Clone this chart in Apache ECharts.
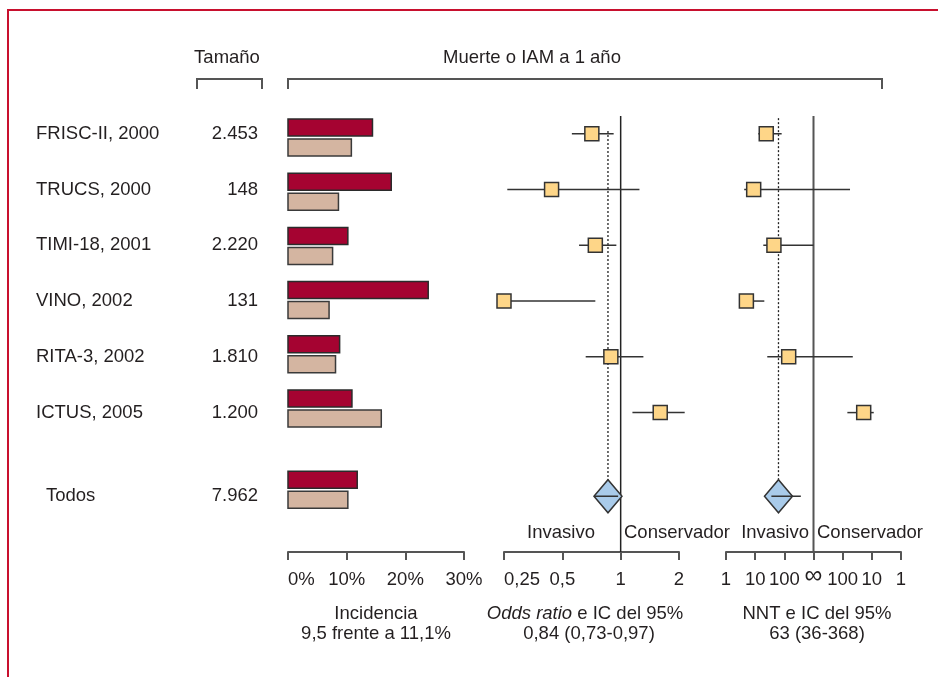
<!DOCTYPE html>
<html>
<head>
<meta charset="utf-8">
<script src="https://cdn.jsdelivr.net/npm/echarts@6/dist/echarts.min.js"></script>
<style>
  html, body { margin: 0; padding: 0; background: #fff; }
  #chart { width: 938px; height: 677px; }
</style>
</head>
<body>
<div id="chart"></div>
<script>
// rows of the forest plot (last one is the pooled result)
var studies = ['FRISC-II, 2000', 'TRUCS, 2000', 'TIMI-18, 2001', 'VINO, 2002', 'RITA-3, 2002', 'ICTUS, 2005', 'Todos']
var sizes = ['2.453', '148', '2.220', '131', '1.810', '1.200', '7.962']
var rowPos = [1, 2, 3, 4, 5, 6, 7.5]

// incidence (%)
var incInvasive = [14.4, 17.6, 10.2, 23.9, 8.8, 10.9, 11.8]
var incConservative = [10.8, 8.6, 7.6, 7.0, 8.1, 15.9, 10.2]

// odds ratio and 95% CI
var orPoint = [0.71, 0.44, 0.74, 0.25, 0.89, 1.60]
var orLow = [0.56, 0.26, 0.61, 0.23, 0.66, 1.15]
var orHigh = [0.92, 1.25, 0.95, 0.74, 1.31, 2.14]
var orPooled = [0.86, 0.73, 0.97]

// NNT and 95% CI (positive = favours invasive, negative = favours conservative)
var nntPoint = [24, 8.9, 44, 5, 141, -19]
var nntLow = [12.8, 4.2, 19, 2.8, 26, -69]
var nntHigh = [81, -56, Infinity, 20.6, -45, -8.6]
var nntPooled = [63, 36, 368]

var incTicks = [0, 10, 20, 30]
var nntTicks = ['1', '10', '100', '\u221e', '100', '10', '1']

var FONT = '"Liberation Sans", Arial, sans-serif'
var FS = 18.5
var TXT = '#231f20'
var LINE = '#333'
var AXIS = '#555'

function nntPos(v) {
  if (v === Infinity) return 3
  return v > 0 ? Math.log10(v) : 6 - Math.log10(-v)
}

function txt(x, y, text, align, extra) {
  var style = { text: text, x: x, y: y, fill: TXT, fontFamily: FONT, fontSize: FS, align: align || 'center', verticalAlign: 'middle' }
  if (extra) for (var k in extra) style[k] = extra[k]
  return { type: 'text', style: style }
}

function axisOpt(idx, type, extra) {
  var a = {
    gridIndex: idx,
    type: type,
    position: 'bottom',
    axisLine: { show: true, onZero: false, lineStyle: { color: AXIS, width: 2 } },
    axisTick: { show: true, inside: false, length: 8, lineStyle: { color: AXIS, width: 2 } },
    axisLabel: { color: TXT, fontFamily: FONT, fontSize: FS, margin: 18 },
    splitLine: { show: false }
  }
  for (var k in extra) a[k] = extra[k]
  return a
}

function yAxisOpt(idx, min, max) {
  return { gridIndex: idx, type: 'value', min: min, max: max, inverse: true, show: false }
}

function renderLabels(params, api) {
  var i = params.dataIndex
  var y = api.coord([0, api.value(1)])[1]
  var last = i === studies.length - 1
  return {
    type: 'group',
    children: [
      txt(last ? 46 : 36, y, studies[i], 'left'),
      txt(258, y, sizes[i], 'right')
    ]
  }
}

function renderBars(params, api) {
  var row = api.value(2)
  var x0 = api.coord([0, row])
  var c = x0[1]
  var xa = api.coord([api.value(0), row])[0]
  var xb = api.coord([api.value(1), row])[0]
  return {
    type: 'group',
    children: [
      { type: 'rect', shape: { x: x0[0], y: c - 18.5, width: xa - x0[0], height: 17 },
        style: { fill: '#a50331', stroke: '#2b2b2b', lineWidth: 1.5 } },
      { type: 'rect', shape: { x: x0[0], y: c + 1.5, width: xb - x0[0], height: 17 },
        style: { fill: '#d4b5a1', stroke: '#3a3a3a', lineWidth: 1.5 } }
    ]
  }
}

function renderStudy(params, api) {
  var row = api.value(3)
  var p = api.coord([api.value(0), row])
  var lo = api.coord([api.value(1), row])
  var hi = api.coord([api.value(2), row])
  return {
    type: 'group',
    children: [
      { type: 'line', shape: { x1: lo[0], y1: p[1], x2: hi[0], y2: p[1] }, style: { stroke: LINE, lineWidth: 1.5 } },
      { type: 'rect', shape: { x: p[0] - 7, y: p[1] - 7, width: 14, height: 14 },
        style: { fill: '#fed688', stroke: LINE, lineWidth: 1.5 } }
    ]
  }
}

function renderPooled(params, api) {
  var row = api.value(3)
  var p = api.coord([api.value(0), row])
  var lo = api.coord([api.value(1), row])
  var hi = api.coord([api.value(2), row])
  return {
    type: 'group',
    children: [
      { type: 'polygon', shape: { points: [[p[0] - 14, p[1]], [p[0], p[1] - 16.5], [p[0] + 14, p[1]], [p[0], p[1] + 16.5]] },
        style: { fill: '#a9cbea', stroke: LINE, lineWidth: 1.5 } },
      { type: 'line', shape: { x1: lo[0], y1: p[1], x2: hi[0], y2: p[1] }, style: { stroke: LINE, lineWidth: 1.5 } }
    ]
  }
}

// vertical reference line: [x, rowFrom, rowTo, dotted]
function renderVLine(params, api) {
  var a = api.coord([api.value(0), api.value(1)])
  var b = api.coord([api.value(0), api.value(2)])
  var dotted = api.value(3) === 1
  var nnt = params.seriesIndex > 5
  return {
    type: 'line',
    shape: { x1: a[0], y1: a[1], x2: b[0], y2: dotted ? b[1] - 16.5 : b[1] },
    style: dotted ? { stroke: '#222', lineWidth: 1.3, lineDash: [2, 2] } : { stroke: nnt ? AXIS : '#222', lineWidth: nnt ? 2 : 1.5 }
  }
}

var pooledRow = rowPos[rowPos.length - 1]
var studyRows = rowPos.slice(0, 6)

var option = {
  animation: false,
  grid: [
    { left: 288, top: 78, width: 176, height: 474, outerBoundsMode: 'none' },
    { left: 504, top: 78, width: 175, height: 474, outerBoundsMode: 'none' },
    { left: 726, top: 78, width: 175, height: 474, outerBoundsMode: 'none' }
  ],
  xAxis: [
    axisOpt(0, 'value', { min: incTicks[0], max: incTicks[incTicks.length - 1], interval: 10,
      axisLabel: { color: TXT, fontFamily: FONT, fontSize: FS, margin: 18, formatter: '{value}%', alignMinLabel: 'left' } }),
    axisOpt(1, 'log', { logBase: 2, min: 0.25, max: 2, splitNumber: 3,
      axisLabel: { color: TXT, fontFamily: FONT, fontSize: FS, margin: 18, alignMinLabel: 'left',
        formatter: function (v) { return String(Math.round(v * 100) / 100).replace('.', ',') } } }),
    axisOpt(2, 'value', { min: 0, max: 6, interval: 1,
      axisLabel: { color: TXT, fontFamily: FONT, fontSize: FS, margin: 18,
        formatter: function (v) {
          var t = nntTicks[Math.round(v)]
          return t === '\u221e' ? '{inf|' + t + '}' : t
        },
        rich: { inf: { fontFamily: FONT, fontSize: 25, lineHeight: 12, color: TXT } } } })
  ],
  // the bar pairs sit on a slightly tighter row pitch than the labels
  yAxis: [yAxisOpt(0, 0, 8.5), yAxisOpt(1, 0, 8.5), yAxisOpt(2, 0, 8.5), yAxisOpt(0, -0.098, 8.647)],
  series: [
    { type: 'custom', xAxisIndex: 0, yAxisIndex: 0, renderItem: renderLabels,
      data: rowPos.map(function (r) { return [0, r] }) },
    { type: 'custom', xAxisIndex: 0, yAxisIndex: 3, renderItem: renderBars,
      data: rowPos.map(function (r, i) { return [incInvasive[i], incConservative[i], r] }) },
    { type: 'custom', xAxisIndex: 1, yAxisIndex: 1, renderItem: renderVLine,
      data: [[1, 0.68, 8.5, 0], [orPooled[0], 0.95, pooledRow, 1]] },
    { type: 'custom', xAxisIndex: 1, yAxisIndex: 1, renderItem: renderStudy,
      data: studyRows.map(function (r, i) { return [orPoint[i], orLow[i], orHigh[i], r] }) },
    { type: 'custom', xAxisIndex: 1, yAxisIndex: 1, renderItem: renderPooled,
      data: [[orPooled[0], orPooled[1], orPooled[2], pooledRow]] },
    { type: 'custom', xAxisIndex: 2, yAxisIndex: 2, renderItem: renderStudy,
      data: studyRows.map(function (r, i) { return [nntPos(nntPoint[i]), nntPos(nntLow[i]), nntPos(nntHigh[i]), r] }) },
    { type: 'custom', xAxisIndex: 2, yAxisIndex: 2, renderItem: renderVLine, z: 1,
      data: [[3, 0.68, 8.5, 0], [nntPos(nntPooled[0]), 0.72, pooledRow, 1]] },
    { type: 'custom', xAxisIndex: 2, yAxisIndex: 2, renderItem: renderPooled,
      data: [[nntPos(nntPooled[0]), nntPos(nntPooled[1]), nntPos(nntPooled[2]), pooledRow]] }
  ],
  graphic: [
    // frame
    { type: 'polyline', shape: { points: [[8, 677], [8, 10], [938, 10]] }, style: { stroke: '#c8102e', lineWidth: 2, fill: null } },
    // headers and brackets
    txt(227, 58, 'Tamaño'),
    txt(532, 58, 'Muerte o IAM a 1 año'),
    { type: 'polyline', shape: { points: [[197, 89], [197, 79], [262, 79], [262, 89]] }, style: { stroke: AXIS, lineWidth: 2, fill: null } },
    { type: 'polyline', shape: { points: [[288, 89], [288, 79], [882, 79], [882, 89]] }, style: { stroke: AXIS, lineWidth: 2, fill: null } },
    // direction labels
    txt(561, 533, 'Invasivo'),
    txt(624, 533, 'Conservador', 'left'),
    txt(809, 533, 'Invasivo', 'right'),
    txt(817, 533, 'Conservador', 'left'),
    // axis titles
    txt(376, 614, 'Incidencia'),
    txt(376, 634, '9,5 frente a 11,1%'),
    txt(585, 614, '{i|Odds ratio} e IC del 95%', 'center', { rich: { i: { fontStyle: 'italic', fontFamily: FONT, fontSize: FS, fill: TXT } } }),
    txt(589, 634, '0,84 (0,73-0,97)'),
    txt(817, 614, 'NNT e IC del 95%'),
    txt(817, 634, '63 (36-368)')
  ]
}

var chart = echarts.init(document.getElementById('chart'))
chart.setOption(option)
window.addEventListener('resize', function () { chart.resize() })
</script>
</body>
</html>
